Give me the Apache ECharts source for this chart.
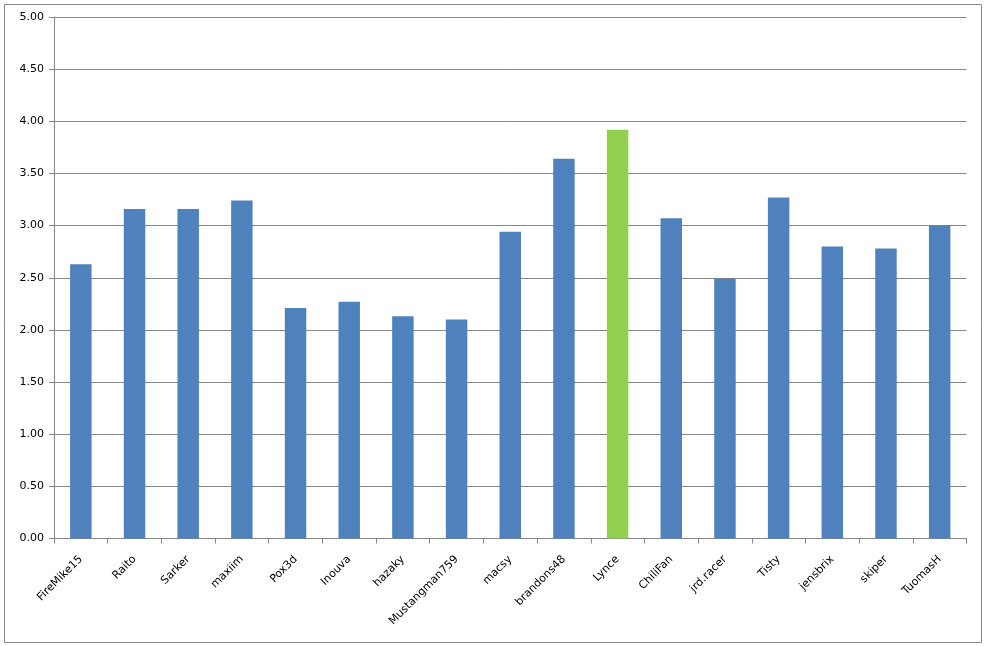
<!DOCTYPE html>
<html><head><meta charset="utf-8">
<script src="https://cdn.jsdelivr.net/npm/echarts@6/dist/echarts.min.js"></script>
<style>html,body{margin:0;padding:0;background:#fff}#c{width:986px;height:646px}</style>
</head><body><div id="c"></div>
<script>
const categories = ["FireMike15","Raito","Sarker","maxiim","Pox3d","Inouva","hazaky","Mustangman759","macsy","brandons48","Lynce","ChiliFan","jrd.racer","Tisty","jensbrix","skiper","TuomasH"];
const values = [2.63,3.16,3.16,3.24,2.21,2.27,2.13,2.10,2.94,3.64,3.92,3.07,2.49,3.27,2.80,2.78,3.00];
const highlightName = "Lynce";
const yTicks = {min:0, max:5, interval:0.5};

const chart = echarts.init(document.getElementById('c'), null, {renderer:'canvas'});
const font = 'DejaVu Sans';
chart.setOption({
  animation:false,
  backgroundColor:'#fff',
  graphic:[{type:'rect', shape:{x:4.5,y:4.5,width:977,height:638}, style:{fill:'none',stroke:'#888',lineWidth:1}, silent:true}],
  grid:{left:54, right:19.5, top:17, bottom:107.5, containLabel:false},
  xAxis:{type:'category', data:categories,
    axisLine:{lineStyle:{color:'#868686'}},
    axisTick:{show:true, alignWithLabel:false, length:5, lineStyle:{color:'#868686'}},
    axisLabel:{rotate:45, interval:0, color:'#000', fontFamily:font, fontSize:11, margin:19}},
  yAxis:{type:'value', min:yTicks.min, max:yTicks.max, interval:yTicks.interval,
    axisLine:{show:true, lineStyle:{color:'#868686'}},
    axisTick:{show:true, length:5, lineStyle:{color:'#868686'}},
    splitLine:{lineStyle:{color:'#868686', width:1}},
    axisLabel:{color:'#000', fontFamily:font, fontSize:11, margin:10, formatter:v=>v.toFixed(2)}},
  series:[{type:'bar', barWidth:'40%',
    data:values.map((v,i)=>({value:v, itemStyle:{color: categories[i]===highlightName ? '#92D050' : '#4F81BD'}}))}]
});
</script></body></html>
